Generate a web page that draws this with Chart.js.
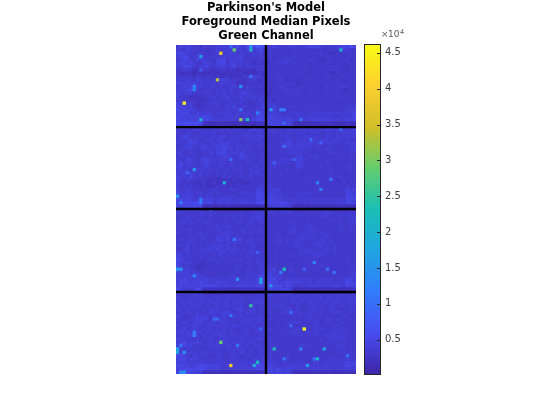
<!DOCTYPE html>
<html>
<head>
<meta charset="utf-8">
<title>Foreground Median Pixels</title>
<script src="https://cdn.jsdelivr.net/npm/chart.js@4"></script>
<style>
  html, body { margin: 0; padding: 0; background: #fff; }
  canvas { position: absolute; left: 0; top: 0; }
</style>
</head>
<body>
<canvas id="heat" width="560" height="420"></canvas>
<canvas id="bar" width="560" height="420"></canvas>
<script>
// background cells, one digit per cell (left half of the plate)
const leftRows = [
  '354543324333445465644676886','443544333233434543443554564','565443443323543454343344454',
  '456534454334345444454334344','346643554433566344453343343','455464335543566355443432332',
  '445654345533455346343443343','334432243322333232223322433','322221222222222222232122232',
  '333332332332322322224434442','444533543434455434332344323','554545444434344443232333333',
  '345453543344343345343434343','454564433343444343343433332','544453334433435343346443333',
  '433322233344344534353444344','443333222334343443344344353','545443233344433344343323444',
  '555453223333433445334333345','655554333434333434433343445','566644544443444443444433565',
  '565555556554434444434434565','656555565654454544455545676','677777762111111111111111222',
  '556666651111111111111111111',
  '343434444334344434443345443','433443344444333343434443443','345533434344345334344444454',
  '344454433443453344433434443','443455444344454543433343344','334554345434556543443443343',
  '344443344443556443434333333','453344334354566444454343333','343434334443445443365434344',
  '433554345544444443344433343','464544345544344343333443343','563443334533343344343334433',
  '454433444343434434343343443','445654343433434333343344543','544364343333334343343353343',
  '543443333222222323223333333','443333223223222222322233333','434333323222333232333333343',
  '543443333334333344333333554','544543443343433333344444665','444553343443334444334344665',
  '565554445554454544454444565','676666755563454554455545677','556666661111111211111111111',
  '445555551111111111111111111',
  '444333344334333333343334444','333444343343334334343344544','344443443343333434343344454',
  '344343334433334333433343343','333333433333434443333433333','343443333434443433344334343',
  '433333343333344443334343343','333343344333444543433333333','343344334343554533553343443',
  '333443333434443444443443333','443534343445454534333344333','334533344454544444434344333',
  '443433344434354344333354344','553444343334343433333433333','654333333344344334443343443',
  '544443322333433333333333444','643433222333333333443343343','655443223333333333433333344',
  '554534433333333333333443345','445555544333343344333444465','556544545544444444444444565',
  '465545565544554444455454565','565555466666545544555545665','654444761222222222222222221',
  '665555551111111111111111111',
  '333344444334334343443343443','443443444443443434344344444','344444344344434434443334454',
  '434344443433434434343344343','443434334344433434554344343','344443434354445543343444343',
  '543334544434345344443343443','433344555433444434334444454','345434554344344343344443443',
  '434445443444444435434344334','445344434443434333343434443','454543443434444344334433444',
  '344454434344454344344433344','554433434443344433343434453','456444543343434444444344333',
  '545553344344443443343434443','543443433343433434444343344','445444444434343344354343343',
  '665434434333443344433443344','566455443343443344334334445','555444444434444344344444454',
  '665544566555543444454444665','566666676555544444545455665','544655441111111111111111111'
];
// same again for the right half
const rightRows = [
  '445433444434465543344456576','443333333333333232333334433','333333334333333343322333333',
  '342333333233323233333332333','333334443333343322333333323','233444434333333333332333333',
  '333333333333323333334333233','333333333333333233333332233','233333333343223333322333333',
  '333333333333333333433233333','333443223233333233333332333','323333343223333333333433333',
  '333344333333333323333344333','323334433433333333333332233','223333334433343333433333333',
  '333333333333333333334333323','332333343333333333333333333','443333333343333333333323333',
  '445333343333333333333333344','455333333333333333333333445','545443344443344444444444445',
  '565444443444444444443344445','655554554444455555554545556','665555551111111122221111211',
  '556665541111111111111111111',
  '344343444444444444544444445','434343443444344433443434444','333334433334444333443444444',
  '333333443444344444434433433','334344553444454444454433444','333343554454443433343333344',
  '333333344444333333433334344','333333444443333333344343343','333333333453344433333334343',
  '333344443554334333333333333','344444433554333333433333333','344333333553333343343343443',
  '343333433433333333343333343','433343333333333333333333333','333333333333333333343343333',
  '333333333333333343333233333','333333333333333233333323233','443333333333333333333333433',
  '444533433333333333333333545','454443333344443333333333554','455443333444333333333333665',
  '565544444444444444444444665','566566544334344444444444665','445555441111111111121122111',
  '445444441111111111111111111',
  '344344443333333334443333343','334343333343333344433343443','333333333333433333344333344',
  '333333344333333333333343344','333333334333443333333343343','333334344333344333333343343',
  '333333344334444343333343343','333333333344444334433333333','333443433444433344343333333',
  '333443434443334444343333333','333333334443333443434333333','333333333343443334434333333',
  '333333333344444444434334333','333333344333334444333333333','333333333333333333343333433',
  '333333333333333333333333333','433333333333333343333333343','445333343333333333333333333',
  '454333343333333333333333344','554443333333333333333333344','566443444444443444443344554',
  '665545655554443444444444665','666664654344454444445544655','665565551111111111111111112',
  '554455551111111111111111111',
  '444344444443434443443444344','433434344344443443444433444','343343344443344434434443344',
  '344444333433344343344344344','333333443433344433343333343','343334434443443344334443343',
  '333333334343443343333334333','343333333333343433443433333','333433444443334433433344333',
  '333333333334333433334433333','443433334444334344334344333','333333344433433433344443333',
  '333333333343334434444444333','443333333333333343344444333','333333333333333333433334333',
  '333333333344433333333444333','344333333333333334333343333','343333333333333333333344343',
  '443333433333333333333333333','343333433333333333444334443','544334433344334434444444555',
  '554434444444444444444445655','664654554444445544443444554','554554541111111111111111111'
];
// cells that stand out from the background: column, row, value
const outlierCols = [13,17,22,22,7,12,2,5,5,7,19,21,19,22,24,19,16,7,49,28,31,32,37,32,5,14,0,7,7,1,3,16,40,32,43,35,29,46,42,43,49,0,1,5,17,18,25,25,10,24,32,31,28,41,45,47,38,22,16,11,12,5,5,13,18,0,0,2,1,16,23,24,1,2,25,38,29,44,37,42,41,39,32,34,34,51];
const outlierRows = [2,1,0,1,3,10,17,12,13,22,22,22,12,9,20,19,0,7,1,19,19,19,22,23,37,41,45,46,47,47,38,34,28,30,29,34,35,40,41,43,25,67,67,69,58,70,70,71,49,62,67,68,72,65,67,68,67,78,81,82,82,86,87,89,90,91,92,92,90,96,96,95,98,98,85,85,91,91,91,94,94,96,94,80,84,93];
const outlierValues = [39000,29000,15000,21000,17000,33000,45000,13000,13000,19000,31000,23000,14000,10000,12000,10000,9000,8000,20000,16000,12000,12000,10000,9000,16000,19000,15000,11000,11000,12000,9000,9000,9000,9000,8000,8000,8000,11000,12000,12000,9000,15000,15000,13000,11000,15000,17000,17000,10000,8000,23000,11000,14000,12000,10000,10000,8000,25000,11000,9000,9000,12000,12000,29000,11000,17000,17000,15000,10000,39000,19000,22000,14000,14000,9000,46000,21000,17000,12000,20000,10000,16000,11000,10000,9000,10000];

const colorLimits = [200, 46100];
const colorTicks = [5000, 10000, 15000, 20000, 25000, 30000, 35000, 40000, 45000];
const dividerRows = [24.7, 49.35, 74.3];
const dividerCols = [27];
const titleLines = ["Parkinson's Model", 'Foreground Median Pixels', 'Green Channel'];

const parula = [[62,38,168],[72,77,240],[50,124,252],[32,165,226],[25,191,182],[100,205,111],[209,191,39],[252,207,48],[249,251,21]];

function parulaColor(v) {
  let f = (v - colorLimits[0]) / (colorLimits[1] - colorLimits[0]);
  f = Math.max(0, Math.min(1, f)) * (parula.length - 1);
  let i = Math.min(Math.floor(f), parula.length - 2);
  let t = f - i;
  let c = parula[i].map((a, k) => Math.round(a + (parula[i + 1][k] - a) * t));
  return 'rgb(' + c.join(',') + ')';
}

function cellValue(digit) {
  return 900 + Number(digit) * 700;
}

// build the matrix from the rows and put the outliers in
let matrix = leftRows.map((r, i) => (r + rightRows[i]).split('').map(cellValue));
outlierValues.forEach((v, i) => { matrix[outlierRows[i]][outlierCols[i]] = v; });

let cells = [];
let cellColors = [];
matrix.forEach((row, r) => {
  row.forEach((v, c) => {
    cells.push({ x: c + 0.5, y: r + 0.5 });
    cellColors.push(parulaColor(v));
  });
});

let dividers = [];
dividerRows.forEach((r) => dividers.push([{ x: 0, y: r }, { x: leftRows[0].length * 2, y: r }]));
dividerCols.forEach((c) => dividers.push([{ x: c, y: 0 }, { x: c, y: leftRows.length }]));

// fill under the cells so the seams between them stay dark
const plateFill = {
  id: 'plateFill',
  beforeDatasetsDraw(chart) {
    let a = chart.chartArea;
    chart.ctx.fillStyle = parulaColor(3000);
    chart.ctx.fillRect(a.left, a.top, a.right - a.left, a.bottom - a.top);
  }
};

new Chart(document.getElementById('heat'), {
  type: 'scatter',
  data: {
    datasets: [
      ...dividers.map((d) => ({
        data: d, showLine: true, borderColor: '#000', borderWidth: 2.4,
        pointRadius: 0, order: 0, clip: 0
      })),
      {
        data: cells, pointStyle: 'rect', pointRadius: 2.5, pointBorderWidth: 0,
        pointBackgroundColor: cellColors, order: 1, clip: 0
      }
    ]
  },
  options: {
    responsive: false,
    animation: false,
    events: [],
    layout: { padding: { left: 176, right: 204, top: 0, bottom: 46 } },
    scales: {
      x: { display: false, min: 0, max: leftRows[0].length * 2 },
      y: { display: false, min: 0, max: leftRows.length, reverse: true }
    },
    plugins: {
      legend: { display: false },
      tooltip: { enabled: false },
      title: {
        display: true,
        fullSize: false,
        text: titleLines,
        color: '#000',
        font: { family: 'DejaVu Sans', size: 11.5, weight: 'bold', lineHeight: 1.22 },
        padding: { top: 1, bottom: 2 }
      }
    }
  },
  plugins: [plateFill]
});

// colourbar: one floating bar over the colour range, painted with the same colours
const barFrame = {
  id: 'barFrame',
  afterDraw(chart) {
    let a = chart.chartArea;
    let y = chart.scales.y;
    let g = chart.ctx;
    g.save();
    g.strokeStyle = '#262626';
    g.lineWidth = 1;
    g.strokeRect(a.left - 0.5, a.top - 0.5, a.right - a.left + 1, a.bottom - a.top + 1);
    colorTicks.forEach((t) => {
      let p = Math.round(y.getPixelForValue(t)) + 0.5;
      g.beginPath();
      g.moveTo(a.right - 3, p);
      g.lineTo(a.right, p);
      g.stroke();
    });
    g.fillStyle = '#595959';
    g.font = '9px "DejaVu Sans"';
    g.fillText('×', a.right + 1, a.top - 8);
    g.fillText('10', a.right + 8, a.top - 8);
    g.font = '6.5px "DejaVu Sans"';
    g.fillText('4', a.right + 20, a.top - 11);
    g.restore();
  }
};

new Chart(document.getElementById('bar'), {
  type: 'bar',
  data: {
    labels: [''],
    datasets: [{
      data: [colorLimits],
      barPercentage: 1,
      categoryPercentage: 1,
      backgroundColor: (ctx) => {
        let a = ctx.chart.chartArea;
        if (!a) return parulaColor(colorLimits[0]);
        let grad = ctx.chart.ctx.createLinearGradient(0, a.bottom, 0, a.top);
        parula.forEach((c, i) => grad.addColorStop(i / (parula.length - 1), 'rgb(' + c.join(',') + ')'));
        return grad;
      }
    }]
  },
  options: {
    responsive: false,
    animation: false,
    events: [],
    layout: { padding: { left: 365, right: 150, top: 45, bottom: 46 } },
    scales: {
      x: { display: false },
      y: {
        position: 'right',
        min: colorLimits[0],
        max: colorLimits[1],
        afterFit: (s) => { s.width = 30; },
        afterBuildTicks: (s) => { s.ticks = colorTicks.map((v) => ({ value: v })); },
        grid: { display: false, tickLength: 0 },
        border: { display: false },
        ticks: {
          color: '#404040',
          padding: 5,
          font: { family: 'DejaVu Sans', size: 10 },
          callback: (v) => String(v / 10000)
        }
      }
    },
    plugins: { legend: { display: false }, tooltip: { enabled: false } }
  },
  plugins: [barFrame]
});
</script>
</body>
</html>
